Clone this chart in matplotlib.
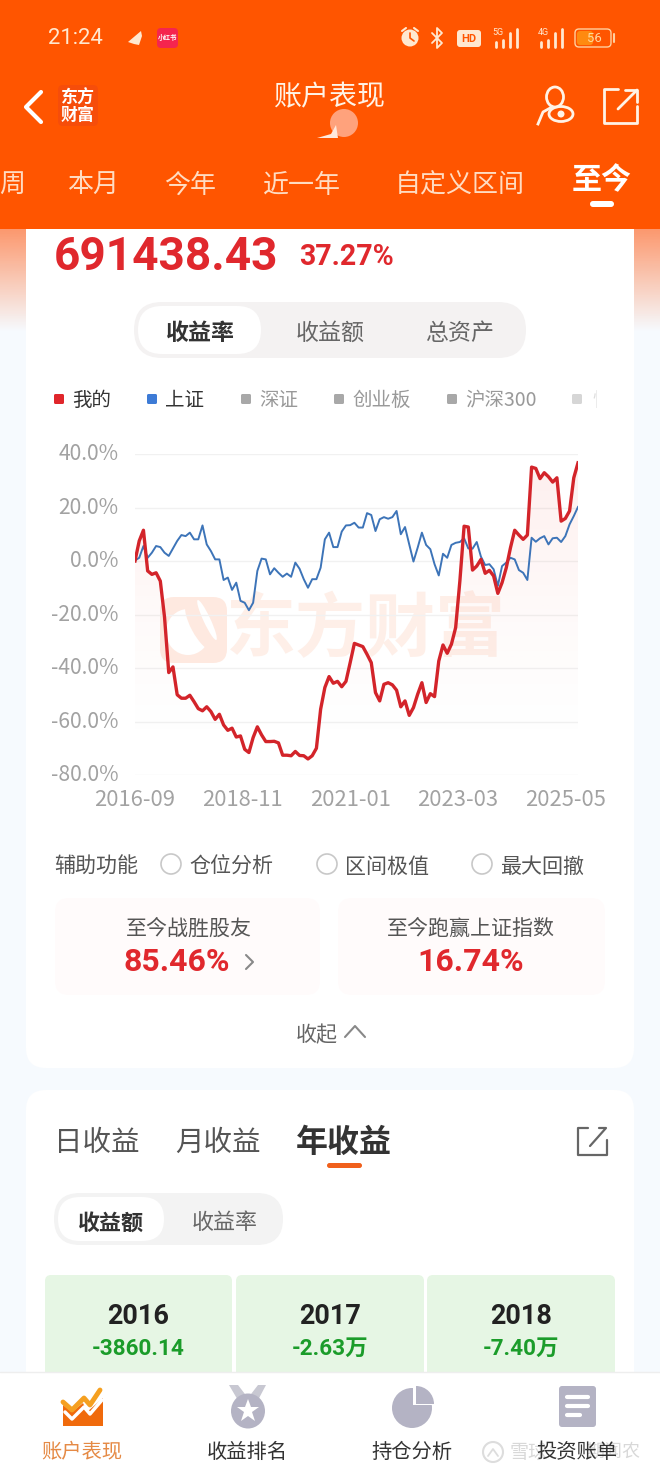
import numpy as np
import matplotlib
matplotlib.use('Agg')
import matplotlib.pyplot as plt
from matplotlib.patches import Circle, Ellipse, FancyBboxPatch, Polygon, Rectangle, Wedge
from matplotlib.transforms import ScaledTranslation

plt.rcParams['font.family'] = ['Noto Sans CJK SC', 'DejaVu Sans']

# month steps on the chart, values in percent
mine = [0, 7.5, 11.5, -3.7, -5, -4.4, -7.5, -21, -41.7, -39.6, -50, -51.3, -51.3, -50.2, -52.6, -55.2,
        -56, -54.5, -56.3, -59.2, -57.3, -61.3, -63.3, -62.5, -65.8, -65.4, -70.4, -71.6, -66, -62,
        -65, -67.5, -67.5, -67.4, -68, -72.6, -72.6, -72.8, -71.2, -72.7, -72.8, -74, -72.8, -70, -55.4,
        -47.3, -43.2, -45.7, -45, -47, -45, -38, -30.8, -31.4, -32, -34.9, -38, -49.2, -52.3, -46.1,
        -45.5, -46.3, -48.3, -54.5, -52.3, -57.7, -54.8, -49.8, -45.5, -52.9, -49.6, -50.7, -37.4, -31.4,
        -34.5, -31.1, -24.9, -7.5, 13, 12.7, -3.4, -1.9, 0.6, -4.6, -3.5, -5.6, -12.1, -8.1, -2.5, 5,
        11.5, 9.7, 8.1, 9.7, 35.1, 34.6, 30.8, 33, 31.5, 29.5, 31.1, 14.9, 15.9, 18.7, 31.1, 36.7]
shanghai = [0.2, 1.2, 5.6, 1.2, 3.1, 5.6, 5.2, 3.1, 1.9, 4.7, 7.5, 9.7, 9.3, 10.6, 8.1, 8.1, 13.3, 6.2,
            3.7, 0.6, 0.6, -7.1, -6.2, -10.8, -8.1, -14.9, -15.6, -18.4, -15.6, -3.7, 0.9, 0.6, -5, -2.7,
            -4.4, -5.9, -4.7, -5.9, -0.6, -2.9, -6.8, -10, -6.8, -6.8, -2.5, 8.1, 10.6, 5.2, 5.2, 11,
            13.3, 13.4, 14.3, 12.5, 12.5, 17.9, 17.2, 11.2, 15.6, 16.4, 15.8, 16.4, 18.7, 10, 12.7, 6.2,
            -0.2, 5, 10.6, 6, 4.4, -1.2, -5.4, 2.7, 1.2, 6, 6.8, 7.1, 8.5, 4.7, 4.6, 7.1, 1.6, -1.5,
            -1.2, -3.1, -9.3, -1.9, -0.6, 1.2, 0.6, -3.4, -4.4, -7.1, 8.7, 7.2, 8.5, 9.3, 6.2, 8.5, 8.7,
            7.1, 9.3, 13.7, 16.8, 20.2]
y_ticks = [40, 20, 0, -20, -40, -60, -80]
x_labels = ['2016-09', '2018-11', '2021-01', '2023-03', '2025-05']
x_label_pos = [0, 25.5, 51, 76.4, 102]

tabs = ['周', '本月', '今年', '近一年', '自定义区间']
tab_x = [12, 93, 190, 301, 460]
legend_names = ['我的', '上证', '深证', '创业板', '沪深300']
legend_x = [59, 152, 246, 339, 452]
legend_colors = ['#e0262b', '#3d7bd6', '#a8a8a8', '#a8a8a8', '#a8a8a8']
years = ['2016', '2017', '2018']
year_values = ['-3860.14', '-2.63万', '-7.40万']
cell_left = [45, 236, 427]
cell_right = [232, 424, 615]
nav_names = ['账户表现', '收益排名', '持仓分析', '投资账单']
nav_x = [82, 247, 412, 577]

ORANGE = '#ff5500'
RED = '#e0282d'

fig = plt.figure(figsize=(6.6, 14.74), dpi=100)
bg = fig.add_axes([0, 0, 1, 1])
bg.set_axis_off()


def txt(x, y, s, px, color='#444444', weight='normal', ha='center', **kw):
    return bg.text(x, y + 4, s, fontsize=px * 0.72, color=color, fontweight=weight, ha=ha, va='center', **kw)


def box(x0, y0, x1, y1, r, color, z=1, **kw):
    p = FancyBboxPatch((x0 + r, y0 + r), x1 - x0 - 2 * r, y1 - y0 - 2 * r,
                       boxstyle='round,pad=%f,rounding_size=%f' % (r, r),
                       facecolor=color, edgecolor='none', zorder=z, **kw)
    bg.add_patch(p)
    return p


def line(xs, ys, color='white', lw=2, z=5):
    bg.plot(xs, ys, color=color, lw=lw, zorder=z, solid_capstyle='round', solid_joinstyle='round')


# page background
bg.add_patch(Rectangle((0, 0), 660, 1474, facecolor='#f6fafe', edgecolor='none', zorder=0))
fade = np.ones((64, 1, 4))
fade[:, 0, :3] = matplotlib.colors.to_rgb('#ff6a2a')
fade[:, 0, 3] = np.linspace(0.68, 0, 64)
bg.imshow(fade, extent=[0, 660, 332, 229], aspect='auto', zorder=0.5)

# white cards
box(26, 200, 634, 1068, 20, 'white')
box(26, 1090, 634, 1420, 20, 'white')

# top bar
bg.add_patch(Rectangle((0, 0), 660, 229, facecolor=ORANGE, edgecolor='none', zorder=2))
txt(75, 34, '21:24', 22, '#ffe8d0', family='Roboto', zorder=4)
bg.add_patch(Polygon([(128, 42), (141, 31), (142, 36), (139, 45), (134, 44)], facecolor='#ffe8d0', zorder=3))
box(157, 28, 178, 48, 4, '#f5254e', z=3)
txt(167.5, 33.5, '小红书', 6.5, 'white', 'bold', zorder=4)

# status icons
bg.add_patch(Circle((410, 38), 8.5, facecolor='#ffe8d0', zorder=3))
line([410, 410, 414], [33, 38, 41], ORANGE, 1.2)
line([402, 406], [31, 28], '#ffe8d0', 1.5)
line([418, 414], [31, 28], '#ffe8d0', 1.5)
line([432, 442, 437, 437, 442, 432], [33, 43, 48, 28, 33, 43], '#ffe8d0', 1.3)
box(457, 30, 481, 47, 3, '#ffe8d0', z=3)
txt(469, 34.5, 'HD', 11, ORANGE, 'bold', family='Roboto', zorder=4)
for x0, label in [(498, '5G'), (543, '4G')]:
    txt(x0 - 0, 28, label, 9, '#ffe8d0', family='Roboto', zorder=4)
    for k, top in enumerate([42, 40, 33, 29]):
        line([x0 + k * 7 - 2, x0 + k * 7 - 2], [top, 47], '#ffe8d0', 2)
box(575, 29, 611, 47, 4, ORANGE, z=3).set(edgecolor='#ffd0a0', linewidth=1)
box(577, 31, 593, 45, 3, '#ff8a10', z=3)
txt(594, 34.5, '56', 13, '#ffd9a0', family='Roboto', zorder=4)
line([614, 614], [34, 42], '#ffd0a0', 1.5)

# header row
line([41, 26, 41], [92, 107, 122], 'white', 3)
box(58, 85, 98, 126, 5, '#f64d0a', z=3)
txt(78, 94, '东方', 17, 'white', 'bold', zorder=4)
txt(78, 111, '财富', 17, 'white', 'bold', zorder=4)
txt(330, 93, '账户表现', 28, '#fff3e6', zorder=4)
bg.add_patch(Ellipse((344, 123), 28, 28, facecolor='#ffa27c', edgecolor='none', zorder=4))
bg.add_patch(Polygon([(317, 138), (331, 134), (336, 125), (338, 138)], facecolor='#ffe9dc', zorder=4))
bg.add_patch(Ellipse((555, 97), 17, 20, facecolor='none', edgecolor='#fff3e6', lw=2, zorder=5))
bg.plot([538, 543, 552], [124, 112, 107], color='#fff3e6', lw=2, zorder=5)
bg.add_patch(Ellipse((561, 114), 24, 15, facecolor=ORANGE, edgecolor='#fff3e6', lw=2, zorder=5))
bg.add_patch(Circle((561, 114), 3.5, facecolor='#fff3e6', zorder=6))
line([618, 604, 604, 637, 637], [89, 89, 123, 123, 106], '#fff3e6', 2)
line([618, 637, 637], [109, 90, 90], '#fff3e6', 2)
line([625, 637, 637], [90, 90, 102], '#fff3e6', 2)

# period tabs
for name, x in zip(tabs, tab_x):
    txt(x, 181, name, 26, '#ffdcc2', zorder=4)
txt(602, 176, '至今', 30, 'white', 'bold', zorder=4)
box(590, 201, 614, 207, 3, 'white', z=4)

# headline numbers
txt(54, 253, '691438.43', 46, RED, 'bold', ha='left', family='Roboto', zorder=4)
txt(299, 253, '37.27%', 28.5, RED, 'bold', ha='left', family='Roboto', zorder=4)

# toggle
box(134, 302, 526, 358, 28, '#f4f2f2', z=2)
box(138, 306, 261, 354, 24, 'white', z=3)
txt(200, 329, '收益率', 23, '#333333', 'bold', zorder=4)
txt(330, 329, '收益额', 23, '#666666', zorder=4)
txt(460, 329, '总资产', 23, '#666666', zorder=4)

# legend
for name, x, c in zip(legend_names, legend_x, legend_colors):
    box(x - 5, 394, x + 5, 404, 1.5, c, z=3)
    tc = '#333333' if c != '#a8a8a8' else '#999999'
    txt(x + 13, 396, name, 19.5, tc, ha='left', zorder=3)
box(572, 394, 582, 404, 1.5, '#d6d6d6', z=3)
clip = Rectangle((585, 380), 12, 40, transform=bg.transData)
cut = txt(592, 396, '恒生', 19.5, '#dddddd', ha='left', zorder=3)
cut.set_clip_path(clip)
cut.set_clip_on(True)

# faint watermark behind the chart
box(160, 597, 227, 663, 14, '#fee9e0', z=2)
bg.add_patch(Ellipse((188, 632), 44, 46, facecolor='white', edgecolor='none', zorder=2.1))
bg.add_patch(Ellipse((200, 626), 18, 54, angle=-28, facecolor='#fee9e0', edgecolor='none', zorder=2.2))
bg.add_patch(Ellipse((207, 620), 7, 44, angle=-25, facecolor='white', edgecolor='none', zorder=2.3))
txt(366, 627, '东方财富', 70, '#feefe8', 'bold', zorder=2)

# auxiliary row
txt(54, 863, '辅助功能', 21, '#555555', ha='left', zorder=3)
for cx, lab, lx in [(171, '仓位分析', 189), (327, '区间极值', 345), (482, '最大回撤', 500)]:
    bg.add_patch(Circle((cx, 864), 10, facecolor='white', edgecolor='#c8c8c8', lw=1.2, zorder=3))
    txt(lx, 863, lab, 21, '#555555', ha='left', zorder=3)

# stat cards
box(55, 898, 320, 995, 14, '#fffbfb', z=2)
box(338, 898, 605, 995, 14, '#fffbfb', z=2)
txt(189, 925, '至今战胜股友', 21, '#555555', zorder=3)
txt(177, 958, '85.46%', 32, RED, 'bold', family='Roboto', zorder=3)
line([246, 253, 246], [955, 962, 969], '#888888', 1.5)
txt(471, 925, '至今跑赢上证指数', 21, '#555555', zorder=3)
txt(471, 958, '16.74%', 32, RED, 'bold', family='Roboto', zorder=3)
txt(317, 1031, '收起', 21, '#666666', zorder=3)
line([345, 355, 365], [1037, 1026, 1037], '#888888', 1.5)

# second card
txt(97, 1139, '日收益', 28.5, '#555555', zorder=3)
txt(218, 1139, '月收益', 28.5, '#555555', zorder=3)
txt(344, 1139, '年收益', 32, '#333333', 'bold', zorder=3)
box(327, 1163, 362, 1168, 2.5, '#f0601c', z=3)
line([588, 578, 578, 607, 607], [1128, 1128, 1155, 1155, 1140], '#666666', 1.6)
line([590, 606, 599], [1146, 1128, 1128], '#666666', 1.6)
box(54, 1193, 283, 1245, 26, '#f3f3f3', z=2)
box(58, 1197, 164, 1241, 22, 'white', z=3)
txt(111, 1219, '收益额', 22, '#333333', 'bold', zorder=4)
txt(225, 1219, '收益率', 22, '#666666', zorder=4)
for y, v, x0, x1 in zip(years, year_values, cell_left, cell_right):
    box(x0, 1275, x1, 1400, 6, '#e6f6e4', z=2)
    txt((x0 + x1) / 2, 1313, y, 27, '#222222', 'bold', family=['Roboto', 'Noto Sans CJK SC'], zorder=3)
    txt((x0 + x1) / 2, 1345, v, 22.5, '#1b9c2a', 'bold', family=['Roboto', 'Noto Sans CJK SC'], zorder=3)

# bottom navigation
bg.add_patch(Rectangle((0, 1372), 660, 102, facecolor='white', edgecolor='none', zorder=6))
line([0, 660], [1372, 1372], '#eeeeee', 1, 6)
bg.add_patch(Polygon([(63, 1426), (63, 1405), (72, 1412), (83, 1403), (87, 1412), (103, 1398), (103, 1426)],
                     facecolor='#f06a0c', zorder=7))
line([63, 72, 84, 90, 100], [1402, 1410, 1398, 1405, 1390], '#f5a020', 3.5, 7)
line([65, 72, 84, 90, 102], [1412, 1419, 1407, 1414, 1400], 'white', 2.5, 8)
GRAY = '#b4b3c4'
bg.add_patch(Polygon([(229, 1385), (238, 1385), (248, 1398), (258, 1385), (266, 1385), (257, 1402), (239, 1402)],
                     facecolor='#c8c8d2', zorder=7))
bg.add_patch(Ellipse((248, 1411), 34, 35, facecolor=GRAY, zorder=8))
bg.plot([248], [1411], marker='*', ms=17, color='white', mew=0, zorder=9)
bg.add_patch(Ellipse((412, 1408), 40, 40, facecolor=GRAY, zorder=7))
bg.add_patch(Polygon([(413, 1386), (435, 1386), (435, 1405), (413, 1405)], facecolor='white', zorder=8))
bg.add_patch(Wedge((416, 1404), 18, 270, 360, facecolor=GRAY, zorder=9))
box(559, 1386, 596, 1427, 3, GRAY, z=7)
for y, x1 in [(1397, 588), (1406, 588), (1415, 580)]:
    line([567, x1], [y, y], 'white', 3, 8)
for i, (name, x) in enumerate(zip(nav_names, nav_x)):
    txt(x, 1448, name, 20.3, '#e58a45' if i == 0 else '#333333', zorder=7)
bg.add_patch(Circle((493, 1452), 10, facecolor='none', edgecolor='#dddddd', lw=1.5, zorder=6.5))
line([488, 493, 498], [1456, 1449, 1456], '#dddddd', 1.3, 6.5)
txt(510, 1448, '雪球：', 19, '#d8d8d8', ha='left', zorder=6.5)
txt(640, 1448, '期闻农', 18, '#d8d8d8', ha='right', zorder=6.5)

bg.set_xlim(0, 660)
bg.set_ylim(1474, 0)

# the chart itself
ax = fig.add_axes([135 / 660, 1 - 775 / 1474, 443 / 660, 321 / 1474])
ax.patch.set_alpha(0)
x = np.arange(len(mine))
x2 = np.arange(len(shanghai))

grad = np.ones((120, 1, 4))
grad[:, 0, :3] = matplotlib.colors.to_rgb('#f04030')
grad[:, 0, 3] = 0.09 * np.linspace(1, 0, 120) ** 1.6
area = ax.fill_between(x, mine, -80, color='none')
im = ax.imshow(grad, extent=[0, len(mine) - 1, -80, 40], aspect='auto', zorder=1)
im.set_clip_path(area.get_paths()[0], transform=ax.transData)

ax.plot(x2, shanghai, color='#3d74b8', lw=1.4, zorder=3)
ax.plot(x, mine, color='#d3242a', lw=2.4, zorder=4)

ax.set_xlim(0, len(mine) - 1)
ax.set_ylim(-80, 40)
ax.set_yticks(y_ticks)
ax.set_yticklabels(['%.1f%%' % v for v in y_ticks])
ax.set_xticks(x_label_pos)
ax.set_xticklabels(x_labels)
ax.tick_params(length=0, labelcolor='#a2a2a2')
ax.tick_params(axis='y', pad=12, labelsize=15.2)
ax.tick_params(axis='x', pad=10, labelsize=15.8)
ax.grid(axis='y', color='#f1f1f1', lw=1)
ax.set_axisbelow(True)
for s in ax.spines.values():
    s.set_visible(False)
shift = ScaledTranslation(0, 2.5 / 100, fig.dpi_scale_trans)
for lab in ax.get_yticklabels():
    lab.set_transform(lab.get_transform() + shift)

fig.savefig('out.png', dpi=100)
